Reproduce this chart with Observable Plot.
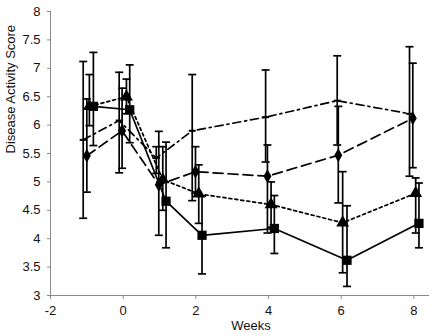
<!DOCTYPE html>
<html><head><meta charset="utf-8">
<script src="https://cdn.jsdelivr.net/npm/d3@7"></script>
<script src="https://cdn.jsdelivr.net/npm/@observablehq/plot@0.6"></script>
<style>body{margin:0;background:#fff}</style>
</head><body><div id="chart"></div>
<script>
const xTicks = [-2, 0, 2, 4, 6, 8];
const yTicks = [3, 3.5, 4, 4.5, 5, 5.5, 6, 6.5, 7, 7.5, 8];
const xTitle = "Weeks";
const yTitle = "Disease Activity Score";

// squares, solid line
const sqX  = [-0.82, 0.18, 1.18, 2.17, 4.16, 6.16, 8.14];
const sqY  = [6.33, 6.27, 4.66, 4.06, 4.18, 3.62, 4.27];
const sqLo = [5.64, 5.69, 3.84, 3.38, 3.74, 3.16, 3.84];
const sqHi = [7.28, 7.06, 5.70, 4.75, 4.76, 4.58, 4.98];
// triangles, dotted line
const trX  = [-0.93, 0.09, 1.09, 2.08, 4.07, 6.04, 8.05];
const trY  = [6.33, 6.50, 5.04, 4.79, 4.60, 4.28, 4.80];
const trLo = [5.99, 6.20, 4.50, 4.27, 4.20, 3.40, 4.10];
const trHi = [6.89, 6.81, 5.62, 5.30, 5.00, 5.18, 5.07];
// diamonds, dashed line
const diX  = [-1.00, -0.03, 0.98, 1.99, 3.97, 5.92, 7.97];
const diY  = [5.46, 5.90, 4.95, 5.18, 5.10, 5.47, 6.12];
const diLo = [4.82, 5.24, 4.06, 4.80, 4.10, 4.63, 5.25];
const diHi = [6.46, 6.65, 5.89, 5.62, 5.65, 6.33, 7.09];
// dash-dot line, small dash markers
const ddX  = [-1.10, -0.11, 0.91, 1.90, 3.92, 5.89, 7.88];
const ddY  = [5.74, 6.08, 5.42, 5.90, 6.14, 6.43, 6.20];
const ddLo = [4.36, 5.16, 5.15, 4.67, 5.35, 5.65, 5.10];
const ddHi = [7.12, 6.93, 5.62, 6.89, 6.97, 7.22, 7.38];

const dashSymbol = {draw(ctx) { ctx.rect(-3.5, -1, 7, 2); }};

const series = [
  {name: "dd", xs: ddX, ys: ddY, lo: ddLo, hi: ddHi, dash: "8,4,2,4", symbol: dashSymbol, r: 3},
  {name: "di", xs: diX, ys: diY, lo: diLo, hi: diHi, dash: "10,5", symbol: "diamond", r: 4.2},
  {name: "tr", xs: trX, ys: trY, lo: trLo, hi: trHi, dash: "3,3", symbol: "triangle", r: 4.8},
  {name: "sq", xs: sqX, ys: sqY, lo: sqLo, hi: sqHi, dash: null, symbol: "square", r: 5.2}
];
const rows = s => s.xs.map((x, i) => ({x, y: s.ys[i], lo: s.lo[i], hi: s.hi[i]}));
const capHalf = 0.11;

const marks = [
  Plot.ruleY([3], {stroke: "#8a8a8a", strokeWidth: 1}),
  Plot.ruleX([-2], {y1: 3, y2: 8, stroke: "#8a8a8a", strokeWidth: 1}),
  Plot.axisX(xTicks, {tickSize: 4, tickPadding: 6, stroke: "#8a8a8a", fill: "#111", fontSize: 13, label: null, tickFormat: d => String(d)}),
  Plot.axisY(yTicks, {tickSize: 3, tickPadding: 7, stroke: "#8a8a8a", fill: "#111", fontSize: 13, label: null, tickFormat: d => String(d)}),
  Plot.text([xTitle], {frameAnchor: "bottom", dx: 11, dy: 34, fontSize: 13, fill: "#111"}),
  Plot.text([yTitle], {frameAnchor: "left", dx: -40, rotate: -90, fontSize: 13, fill: "#111"})
];
for (const s of series) {
  const d = rows(s);
  marks.push(Plot.line(d, {x: "x", y: "y", stroke: "black", strokeWidth: 1.7, strokeDasharray: s.dash}));
}
for (const s of series) {
  const d = rows(s);
  marks.push(
    Plot.ruleX(d, {x: "x", y1: "lo", y2: "hi", stroke: "black", strokeWidth: 1.7}),
    Plot.link(d, {x1: p => p.x - capHalf, x2: p => p.x + capHalf, y1: "lo", y2: "lo", stroke: "black", strokeWidth: 1.7}),
    Plot.link(d, {x1: p => p.x - capHalf, x2: p => p.x + capHalf, y1: "hi", y2: "hi", stroke: "black", strokeWidth: 1.7}),
    Plot.dot(d, {x: "x", y: "y", symbol: s.symbol, r: s.r, fill: "black", stroke: "none"})
  );
}

const chart = Plot.plot({
  width: 432, height: 336,
  marginLeft: 50, marginRight: 3, marginTop: 11, marginBottom: 41,
  x: {domain: [-2, 8.43]},
  y: {domain: [3, 8]},
  style: {fontFamily: "'Liberation Sans', Arial, sans-serif", fontSize: "13px", background: "white"},
  marks
});
document.getElementById("chart").appendChild(chart);
</script>
</body></html>
